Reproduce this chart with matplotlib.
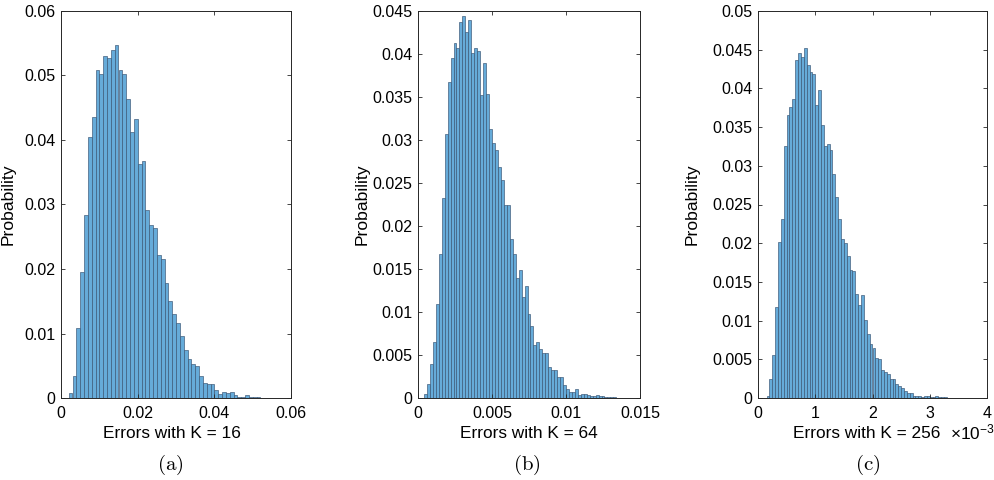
import numpy as np
import matplotlib
matplotlib.use("Agg")
import matplotlib.pyplot as plt

plt.rcParams['font.family'] = ['Liberation Sans', 'DejaVu Sans']
plt.rcParams['mathtext.fontset'] = 'custom'
plt.rcParams['mathtext.rm'] = 'Liberation Sans'
plt.rcParams['mathtext.it'] = 'Liberation Sans:italic'
plt.rcParams['mathtext.bf'] = 'Liberation Sans:bold'

# (a) K = 16 : bins of width 0.001 starting at 0.002
start_a, width_a = 0.002, 0.001
prob_a = [0.0008, 0.0034, 0.0108, 0.0196, 0.0283, 0.0404, 0.0435, 0.0508, 0.0503, 0.0530,
          0.0527, 0.0540, 0.0548, 0.0509, 0.0502, 0.0464, 0.0413, 0.0433, 0.0363, 0.0367,
          0.0291, 0.0268, 0.0263, 0.0222, 0.0216, 0.0178, 0.0150, 0.0131, 0.0116, 0.0096,
          0.0074, 0.0061, 0.0052, 0.0050, 0.0034, 0.0024, 0.0022, 0.0022, 0.0012, 0.0006,
          0.0010, 0.0008, 0.0009, 0.0004, 0.0002, 0.0002, 0.0004, 0.0002, 0.0001, 0.0001,
          0.00005, 0.00005, 0.00005]

# (b) K = 64 : bins of width 0.0002 starting at 0.0004
start_b, width_b = 0.0004, 0.0002
prob_b = [0.0005, 0.0016, 0.0039, 0.0065, 0.0109, 0.0167, 0.0233, 0.0307, 0.0368, 0.0395,
          0.0413, 0.0407, 0.0437, 0.0444, 0.0426, 0.0440, 0.0401, 0.0407, 0.0403, 0.0352,
          0.0389, 0.0354, 0.0313, 0.0296, 0.0288, 0.0269, 0.0253, 0.0224, 0.0224, 0.0185,
          0.0168, 0.0139, 0.0149, 0.0118, 0.0130, 0.0098, 0.0084, 0.0062, 0.0065, 0.0057,
          0.0052, 0.0052, 0.0036, 0.0032, 0.0032, 0.0024, 0.0025, 0.0015, 0.0011, 0.0007,
          0.0007, 0.0011, 0.0004, 0.0005, 0.0005, 0.0003, 0.0002, 0.0002, 0.0003, 0.0002,
          0.0002, 0.0001, 0.0001, 0.0001, 0.0001]

# (c) K = 256 : bins of width 0.05 (x1e-3) starting at 0.15
start_c, width_c = 0.15, 0.05
prob_c = [0.0003, 0.0024, 0.0056, 0.0118, 0.0201, 0.0231, 0.0325, 0.0365, 0.0376, 0.0386,
          0.0437, 0.0446, 0.0440, 0.0452, 0.0430, 0.0421, 0.0419, 0.0379, 0.0398, 0.0353,
          0.0326, 0.0328, 0.0320, 0.0289, 0.0260, 0.0231, 0.0206, 0.0200, 0.0184, 0.0165,
          0.0164, 0.0135, 0.0120, 0.0133, 0.0101, 0.0083, 0.0070, 0.0064, 0.0052, 0.0051,
          0.0036, 0.0034, 0.0031, 0.0024, 0.0024, 0.0018, 0.0015, 0.0013, 0.0009, 0.0006,
          0.0006, 0.0003, 0.0002, 0.0002, 0.0001, 0.0003, 0.0002, 0.0001, 0.0001, 0.0003,
          0.0001, 0.0001, 0.0001, 0.00005]

xlabels = ["Errors with K = 16", "Errors with K = 64", "Errors with K = 256"]
captions = ["(a)", "(b)", "(c)"]
xticks = [[0, 0.02, 0.04, 0.06], [0, 0.005, 0.01, 0.015], [0, 1, 2, 3, 4]]
yticks = [np.arange(0, 0.0601, 0.01), np.arange(0, 0.0451, 0.005), np.arange(0, 0.0501, 0.005)]
xlims = [(0, 0.06), (0, 0.015), (0, 4)]
ylims = [(0, 0.06), (0, 0.045), (0, 0.05)]

face = (0.40, 0.67, 0.85)
edge = (0.22, 0.33, 0.45)
spine = (0.15, 0.15, 0.15)

W, H = 995, 480
fig = plt.figure(figsize=(W / 100, H / 100), dpi=100)
boxes = [(61, 291), (418, 640), (758, 987)]
top, bottom = 11, 398
ylab_x = [16, 370, 700]
xlab_x = [172, 529, 867]
cap_x = [170, 527, 868]

series = [(start_a, width_a, prob_a), (start_b, width_b, prob_b), (start_c, width_c, prob_c)]

for i, (l, r) in enumerate(boxes):
    ax = fig.add_axes([l / W, (H - bottom) / H, (r - l) / W, (bottom - top) / H])
    s, w, p = series[i]
    lefts = s + w * np.arange(len(p))
    ax.bar(lefts, p, width=w, align='edge', color=face, edgecolor=edge, linewidth=0.45)
    ax.set_xlim(*xlims[i])
    ax.set_ylim(*ylims[i])
    ax.set_xticks(xticks[i])
    ax.set_yticks(yticks[i])
    ax.set_xticklabels(['%g' % round(v, 4) for v in xticks[i]])
    ax.set_yticklabels(['%g' % round(v, 4) for v in yticks[i]])
    ax.tick_params(direction='in', top=True, right=True, length=3, width=0.6,
                   color=spine, labelsize=11.5)
    ax.tick_params(axis='x', pad=6)
    ax.tick_params(axis='y', pad=4)
    for sp in ax.spines.values():
        sp.set_color(spine)
        sp.set_linewidth(0.7)
    ax.set_xlabel(xlabels[i], fontsize=12.4)
    ax.xaxis.set_label_coords((xlab_x[i] - l) / (r - l), -0.073)
    ax.set_ylabel("Probability", fontsize=12.6)
    ax.yaxis.set_label_coords((ylab_x[i] - l) / (r - l), 0.5)
    fig.text(cap_x[i] / W, (H - 465) / H, r'$\mathrm{' + captions[i] + '}$',
             ha='center', va='center', fontsize=15, math_fontfamily='cm')

# exponent multiplier of panel (c)
fig.text(950 / W, (H - 439) / H, "×10$^{-3}$", ha='left', va='baseline', fontsize=12.4)

fig.savefig("out.png", dpi=100)
